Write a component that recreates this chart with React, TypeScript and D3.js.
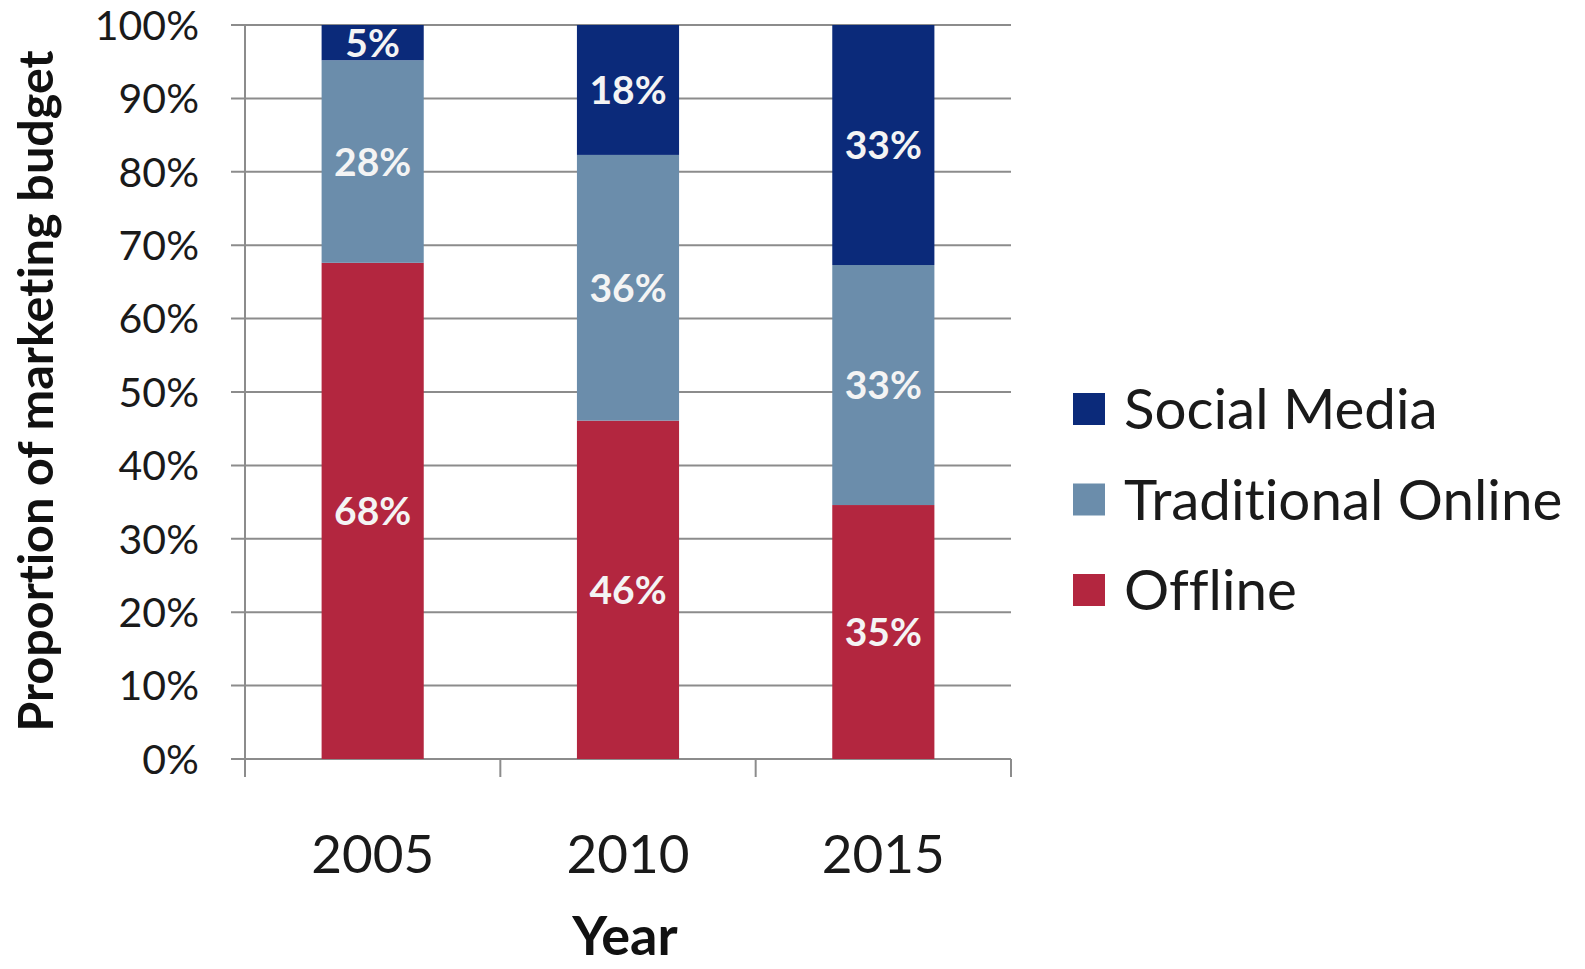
import React from "react";
import * as d3 from "d3";

const years = ["2005", "2010", "2015"];
const seriesNames = ["Offline", "Traditional Online", "Social Media"];
const offline = [67.6, 46.1, 34.6];
const traditionalOnline = [27.6, 36.2, 32.7];
const socialMedia = [4.8, 17.7, 32.7];
const yTicks = [0, 10, 20, 30, 40, 50, 60, 70, 80, 90, 100];
const colors: Record<string, string> = {
  "Offline": "#b3263f",
  "Traditional Online": "#6b8dab",
  "Social Media": "#0b2a7a",
};
const legendOrder = ["Social Media", "Traditional Online", "Offline"];

const W = 1585;
const H = 969;
const FONT = "Lato, 'Open Sans', sans-serif";

export default function App() {
  const rows = years.map((y, i) => ({
    year: y,
    "Offline": offline[i],
    "Traditional Online": traditionalOnline[i],
    "Social Media": socialMedia[i],
  }));
  const stack = d3.stack<any>().keys(seriesNames);
  const layers = stack(rows);

  const x = d3.scaleBand().domain(years).range([245, 1011]).paddingInner(0.6).paddingOuter(0.3);
  const y = d3.scaleLinear().domain([0, 100]).range([759, 25]);
  const step = x.step();
  const boundaries = [0, 1, 2, 3].map((i) => 245 + i * step);

  return (
    <svg
      width={W}
      height={H}
      style={{ position: "absolute", left: 0, top: 0, background: "#fff", fontVariantLigatures: "none" }}
      fontFamily={FONT}
    >
      {/* gridlines */}
      {yTicks.map((t) => (
        <line key={"g" + t} x1={231} x2={1011} y1={y(t)} y2={y(t)} stroke="#8c8c8c" strokeWidth={2} />
      ))}
      {/* y axis */}
      <line x1={245} x2={245} y1={y(100)} y2={777} stroke="#8c8c8c" strokeWidth={2} />
      {boundaries.map((b, i) => (
        <line key={"t" + i} x1={b} x2={b} y1={y(0)} y2={777} stroke="#8c8c8c" strokeWidth={2} />
      ))}
      {/* y tick labels */}
      {yTicks.map((t) => (
        <text key={"yl" + t} x={199} y={y(t)} dy="0.36em" textAnchor="end" fontSize={41} fill="#1a1a1a">
          {t + "%"}
        </text>
      ))}
      {/* bars */}
      {layers.map((layer) => (
        <g key={layer.key} fill={colors[layer.key]}>
          {layer.map((d, i) => (
            <rect key={i} x={x(years[i])} width={x.bandwidth()} y={y(d[1])} height={y(d[0]) - y(d[1])} />
          ))}
        </g>
      ))}
      {/* bar labels */}
      {layers.map((layer) => (
        <g key={"l" + layer.key}>
          {layer.map((d, i) => (
            <text
              key={i}
              x={(x(years[i]) as number) + x.bandwidth() / 2}
              y={y((d[0] + d[1]) / 2)}
              dy="0.36em"
              textAnchor="middle"
              fontSize={39}
              fontWeight="bold"
              fill="#f4f4f4"
            >
              {Math.round(d[1] - d[0]) + "%"}
            </text>
          ))}
        </g>
      ))}
      {/* category labels */}
      {years.map((yr) => (
        <text key={"c" + yr} x={(x(yr) as number) + x.bandwidth() / 2} y={873} textAnchor="middle" fontSize={53} fill="#1a1a1a">
          {yr}
        </text>
      ))}
      {/* axis titles */}
      <text x={625} y={955} textAnchor="middle" fontSize={54} fontWeight="bold" fill="#111">
        Year
      </text>
      <text transform={`translate(36,391) rotate(-90)`} textAnchor="middle" dy="0.36em" fontSize={48.5} fontWeight="bold" fill="#111">
        Proportion of marketing budget
      </text>
      {/* legend */}
      {legendOrder.map((name, i) => {
        const cy = 409 + i * 90.5;
        return (
          <g key={"lg" + name}>
            <rect x={1073} y={cy - 16} width={32} height={32} fill={colors[name]} />
            <text x={1124} y={cy} dy="0.36em" fontSize={56.5} fill="#1a1a1a">
              {name}
            </text>
          </g>
        );
      })}
    </svg>
  );
}
